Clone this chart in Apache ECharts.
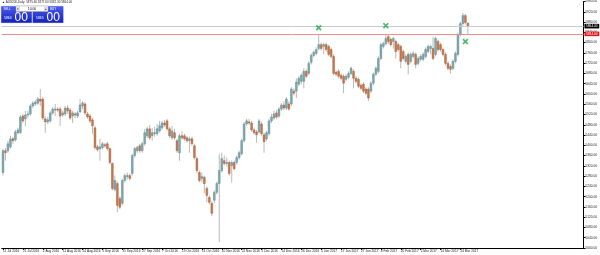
<!DOCTYPE html>
<html><head><meta charset="utf-8">
<script src="https://cdn.jsdelivr.net/npm/echarts@6/dist/echarts.min.js"></script>
<style>html,body{margin:0;padding:0;background:#fff}#c{width:600px;height:255px}</style>
</head><body><div id="c"></div>
<script>
const opens = [5294,5379,5379,5394,5425,5421,5449,5449,5514,5503,
5518,5522,5553,5561,5564,5580,5580,5503,5491,5495,
5526,5537,5541,5541,5518,5522,5545,5537,5514,5522,
5514,5530,5553,5561,5522,5514,5499,5468,5394,5387,
5391,5402,5406,5387,5329,5228,5251,5193,5174,5263,
5278,5282,5290,5360,5379,5398,5379,5406,5437,5464,
5437,5445,5445,5456,5468,5487,5495,5464,5429,5449,
5418,5371,5437,5437,5429,5418,5425,5398,5348,5294,
5271,5275,5232,5197,5174,5186,5217,5251,5302,5340,
5329,5333,5321,5333,5333,5352,5367,5418,5483,5491,
5487,5460,5452,5452,5483,5441,5425,5445,5495,5506,
5526,5514,5541,5557,5545,5561,5561,5611,5611,5638,
5649,5649,5688,5680,5723,5750,5758,5777,5792,5785,
5792,5785,5773,5746,5684,5688,5673,5669,5657,5665,
5680,5688,5661,5657,5634,5638,5619,5619,5611,5642,
5677,5688,5738,5785,5796,5823,5812,5804,5804,5792,
5785,5765,5727,5754,5727,5746,5754,5719,5735,5735,
5746,5765,5777,5777,5754,5804,5792,5773,5754,5719,
5707,5700,5727,5754,5831,5874,5905,5875.6];
const closes = [5379,5371,5406,5425,5418,5452,5460,5510,5495,5518,
5522,5553,5564,5568,5580,5572,5506,5491,5499,5526,
5541,5541,5537,5514,5526,5545,5534,5506,5526,5518,
5526,5557,5564,5526,5510,5495,5476,5391,5383,5394,
5406,5398,5387,5333,5232,5263,5166,5159,5263,5282,
5282,5271,5360,5387,5391,5379,5406,5449,5464,5429,
5449,5449,5464,5476,5487,5479,5464,5437,5456,5429,
5379,5437,5429,5425,5418,5425,5406,5352,5302,5263,
5278,5251,5205,5178,5135,5217,5251,5302,5348,5329,
5333,5290,5333,5309,5352,5371,5418,5483,5495,5487,
5460,5449,5441,5495,5445,5414,5449,5495,5510,5522,
5510,5541,5557,5545,5580,5541,5619,5603,5646,5661,
5673,5688,5669,5719,5750,5762,5773,5792,5777,5792,
5773,5754,5746,5680,5677,5669,5661,5642,5669,5680,
5700,5661,5649,5630,5622,5611,5603,5584,5642,5677,
5700,5738,5792,5796,5816,5804,5792,5816,5765,5773,
5727,5738,5746,5715,5754,5758,5715,5738,5746,5754,
5773,5785,5785,5738,5816,5773,5773,5754,5719,5700,
5696,5727,5758,5831,5874,5905,5878,5864.0];
const lows = [5282,5340,5371,5387,5406,5414,5441,5445,5487,5475,
5506,5514,5545,5553,5557,5553,5499,5448,5483,5487,
5518,5514,5530,5475,5510,5514,5522,5499,5487,5506,
5506,5526,5541,5518,5503,5487,5445,5383,5375,5340,
5383,5391,5379,5325,5224,5220,5139,5151,5166,5255,
5267,5263,5282,5352,5371,5371,5371,5398,5429,5421,
5418,5433,5437,5449,5460,5472,5456,5429,5421,5421,
5371,5340,5421,5418,5410,5371,5398,5344,5290,5255,
5255,5213,5178,5170,5124,5174,5209,5023,5294,5321,
5317,5282,5255,5302,5325,5344,5360,5410,5476,5479,
5452,5441,5410,5445,5437,5371,5418,5437,5487,5499,
5503,5506,5534,5537,5537,5534,5553,5595,5584,5630,
5638,5622,5661,5673,5715,5742,5750,5769,5769,5754,
5765,5746,5738,5673,5669,5661,5653,5603,5649,5657,
5673,5622,5642,5622,5615,5603,5595,5572,5603,5634,
5669,5680,5731,5777,5789,5796,5785,5777,5738,5765,
5700,5731,5719,5676,5719,5738,5700,5711,5727,5727,
5738,5758,5754,5731,5746,5765,5765,5746,5711,5692,
5680,5692,5719,5746,5823,5866,5870,5832.3];
const highs = [5387,5390,5418,5437,5433,5460,5468,5518,5522,5534,
5534,5561,5572,5576,5588,5619,5588,5514,5510,5534,
5549,5561,5549,5549,5534,5553,5557,5545,5534,5530,
5534,5580,5572,5568,5530,5522,5506,5476,5402,5425,
5414,5410,5414,5391,5333,5282,5259,5201,5270,5290,
5294,5290,5367,5394,5398,5406,5414,5464,5472,5479,
5468,5472,5483,5495,5495,5499,5503,5472,5476,5464,
5425,5445,5456,5445,5437,5433,5433,5406,5356,5302,
5294,5282,5240,5205,5182,5224,5259,5367,5371,5360,
5352,5340,5340,5340,5360,5379,5425,5491,5503,5503,
5495,5468,5460,5503,5491,5449,5456,5503,5522,5534,
5537,5549,5564,5572,5588,5572,5626,5622,5661,5669,
5680,5700,5696,5727,5758,5769,5781,5831,5800,5800,
5800,5792,5781,5754,5692,5696,5680,5677,5677,5688,
5707,5696,5669,5665,5642,5646,5626,5626,5649,5684,
5707,5746,5800,5804,5831,5831,5820,5823,5812,5800,
5792,5773,5754,5762,5762,5765,5762,5746,5754,5762,
5781,5792,5792,5823,5823,5812,5800,5781,5762,5727,
5715,5735,5765,5839,5881,5916,5912,5877.6];
const tickLabels = ["11 Jul 2016","21 Jul 2016","2 Aug 2016","12 Aug 2016","24 Aug 2016","5 Sep 2016","15 Sep 2016","27 Sep 2016","7 Oct 2016","19 Oct 2016","31 Oct 2016","10 Nov 2016","22 Nov 2016","2 Dec 2016","14 Dec 2016","26 Dec 2016","5 Jan 2017","17 Jan 2017","27 Jan 2017","8 Feb 2017","20 Feb 2017","2 Mar 2017","14 Mar 2017","24 Mar 2017"];
const tickEvery = 8;
const slotCount = 234;
const yMin = 5000, yMax = 5960, yStep = 40;
const bidPrice = 5864.00;
const askPrice = 5865.00;
const levelPrice = 5834.00;
const arrowIdx = [127, 154, 186];
const arrowPrice = [5858, 5866, 5804];
const headerText = "AUS200,Daily  5875.60 5877.60 5832.30 5864.00";
const lotText = "10.00";

const categories = [];
for (let i = 0; i < slotCount; i++) categories.push(String(i));
const isTick = (idx) => idx % tickEvery === 0 && idx / tickEvery < tickLabels.length;

const FONT = 'Liberation Sans';
const chart = echarts.init(document.getElementById('c'), null, {renderer: 'canvas'});
const blueGrad = new echarts.graphic.LinearGradient(0, 0, 0, 1, [
  {offset: 0, color: '#4d5cf0'}, {offset: 1, color: '#1420b8'}]);
const bidStr = bidPrice.toFixed(2), askStr = askPrice.toFixed(2);

chart.setOption({
  animation: false,
  backgroundColor: '#ffffff',
  grid: {left: 0, right: 14, top: 0, bottom: 7},
  xAxis: {
    type: 'category', data: categories, boundaryGap: true,
    axisLine: {show: true, lineStyle: {color: '#000', width: 1}},
    axisTick: {show: true, interval: (i) => isTick(i), length: 2, alignWithLabel: true, lineStyle: {color: '#000'}},
    axisLabel: {show: true, interval: (i) => isTick(i), formatter: (v, i) => tickLabels[i / tickEvery] || '',
      align: 'left', fontSize: 3.2, color: '#222', margin: 1.5, fontFamily: FONT},
    splitLine: {show: false}
  },
  yAxis: {
    type: 'value', position: 'right', min: yMin, max: yMax, interval: yStep, scale: true,
    axisLine: {show: true, lineStyle: {color: '#000', width: 1}},
    axisTick: {show: true, length: 2, lineStyle: {color: '#000'}},
    axisLabel: {show: true, fontSize: 3.2, color: '#222', margin: 2, fontFamily: FONT, formatter: (v) => v.toFixed(2)},
    splitLine: {show: false}
  },
  series: [
    {
      type: 'custom',
      renderItem: function (params, api) {
        const i = api.value(0), o = api.value(1), c = api.value(2), l = api.value(3), h = api.value(4);
        const pO = api.coord([i, o]), pC = api.coord([i, c]);
        const yL = api.coord([i, l])[1], yH = api.coord([i, h])[1];
        const x = pO[0];
        const bw = api.size([1, 0])[0] * 0.72;
        const up = c >= o;
        const top = Math.min(pO[1], pC[1]), bot = Math.max(pO[1], pC[1]);
        return {type: 'group', children: [
          {type: 'line', shape: {x1: x, y1: yH, x2: x, y2: yL}, style: {stroke: '#b9b9b9', lineWidth: 1}},
          {type: 'rect', shape: {x: x - bw / 2, y: top, width: bw, height: Math.max(bot - top, 1)},
            style: {fill: up ? '#80a9b0' : '#c97a4e', stroke: up ? '#5f8c94' : '#a95f39', lineWidth: 0.5}}
        ]};
      },
      encode: {x: 0, y: [1, 2, 3, 4]},
      data: opens.map((o, i) => [i, o, closes[i], lows[i], highs[i]]),
      z: 2
    },
    {
      type: 'scatter',
      symbol: 'path://M0,2 L2,0 L5,3 L8,0 L10,2 L7,5 L10,8 L8,10 L5,7 L2,10 L0,8 L3,5 Z',
      symbolSize: 6,
      itemStyle: {color: '#23a847'},
      data: arrowIdx.map((ix, k) => [ix, arrowPrice[k]]),
      z: 5,
      markLine: {
        symbol: 'none', silent: true, animation: false,
        data: [
          {yAxis: bidPrice, lineStyle: {color: '#c4c8dc', width: 1, type: 'solid'},
            label: {show: true, position: 'end', formatter: bidStr, backgroundColor: '#000', color: '#fff',
              fontSize: 3.2, fontFamily: FONT, padding: [0.8, 1.6], distance: 1}},
          {yAxis: levelPrice, lineStyle: {color: '#f08c8c', width: 1, type: 'solid'},
            label: {show: true, position: 'end', formatter: levelPrice.toFixed(2), backgroundColor: '#e8141a', color: '#fff',
              fontSize: 3.2, fontFamily: FONT, padding: [0.8, 1.6], distance: 1}}
        ]
      }
    }
  ],
  graphic: [
    {type: 'text', x: 2, y: 0.6, z: 50, style: {text: '\u25B2 ' + headerText, fontSize: 3, fill: '#222', fontFamily: FONT}},
    {type: 'rect', z: 50, shape: {x: 1, y: 6, width: 31, height: 17}, style: {fill: blueGrad, stroke: '#cfd3ff', lineWidth: 0.5}},
    {type: 'rect', z: 50, shape: {x: 32.5, y: 6, width: 31, height: 17}, style: {fill: blueGrad, stroke: '#cfd3ff', lineWidth: 0.5}},
    {type: 'rect', z: 51, shape: {x: 16, y: 6, width: 32, height: 5.5}, style: {fill: '#ffffff', stroke: '#9a9a9a', lineWidth: 0.5}},
    {type: 'rect', z: 52, shape: {x: 16.3, y: 6.3, width: 3.6, height: 4.9}, style: {fill: '#dcdcdc'}},
    {type: 'rect', z: 52, shape: {x: 44.1, y: 6.3, width: 3.6, height: 4.9}, style: {fill: '#dcdcdc'}},
    {type: 'text', z: 53, x: 18.1, y: 8.75, style: {text: '\u25BE', fontSize: 3, fill: '#444', align: 'center', verticalAlign: 'middle'}},
    {type: 'text', z: 53, x: 45.9, y: 8.75, style: {text: '\u25B4', fontSize: 3, fill: '#444', align: 'center', verticalAlign: 'middle'}},
    {type: 'text', z: 53, x: 32, y: 8.75, style: {text: lotText, fontSize: 3.4, fill: '#000', align: 'center', verticalAlign: 'middle', fontFamily: FONT}},
    {type: 'text', z: 53, x: 3.5, y: 7.2, style: {text: 'SELL', fontSize: 3, fill: '#fff', fontFamily: FONT}},
    {type: 'text', z: 53, x: 50, y: 7.2, style: {text: 'BUY', fontSize: 3, fill: '#fff', fontFamily: FONT}},
    {type: 'text', z: 53, x: 4, y: 16.5, style: {text: bidStr.slice(0, 4), fontSize: 3.4, fill: '#fff', fontFamily: FONT}},
    {type: 'text', z: 53, x: 14.5, y: 11.5, style: {text: bidStr.slice(5, 7), fontSize: 12, fill: '#fff', fontFamily: FONT}},
    {type: 'text', z: 53, x: 36, y: 16.5, style: {text: askStr.slice(0, 4), fontSize: 3.4, fill: '#fff', fontFamily: FONT}},
    {type: 'text', z: 53, x: 46.5, y: 11.5, style: {text: askStr.slice(5, 7), fontSize: 12, fill: '#fff', fontFamily: FONT}}
  ]
});
</script>
</body></html>
